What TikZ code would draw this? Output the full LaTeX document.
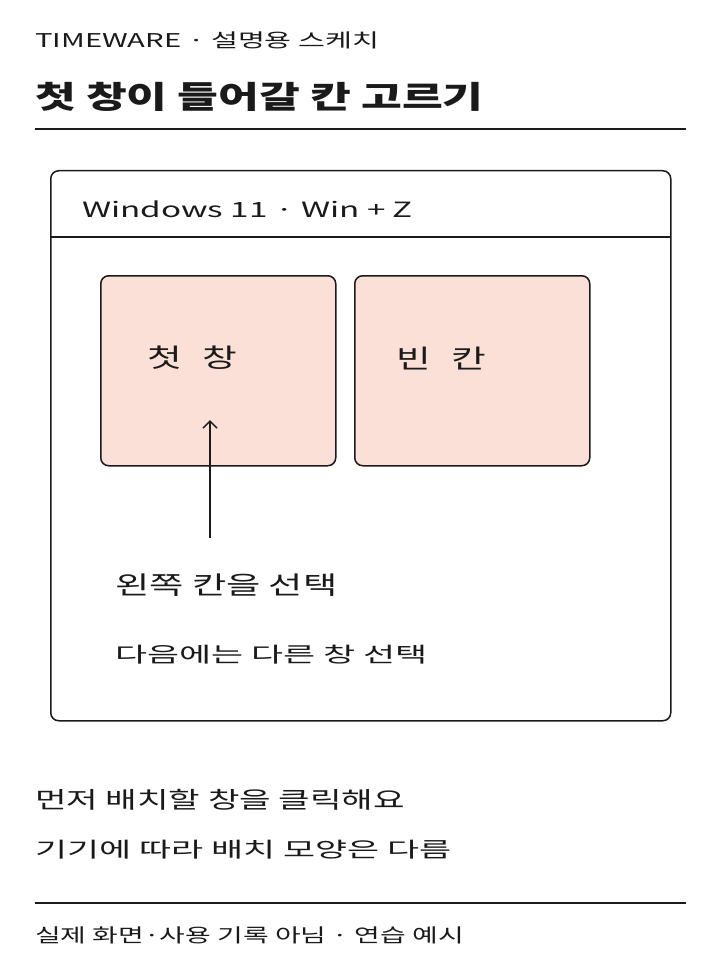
\documentclass[tikz,border=0pt]{standalone}
\usetikzlibrary{arrows.meta}
\usepackage{fontspec}
\setmainfont{Noto Sans CJK KR}
\definecolor{ink}{HTML}{1A1A1A}
\definecolor{peach}{HTML}{FAE0D6}
\newcommand{\fs}[1]{\addfontfeatures{FakeStretch=#1}}
\newcommand{\ls}[1]{\addfontfeatures{LetterSpace=#1}}
\begin{document}
\begin{tikzpicture}[x=1pt,y=-1pt,
  txt/.style={anchor=west,inner sep=0pt,text=ink},
  box/.style={draw=ink,line width=1.5pt,rounded corners=8pt},
  rule/.style={draw=ink,line width=1.3pt}]
\useasboundingbox (0,0) rectangle (720,960);
\node[txt,font=\fontsize{19}{22}\selectfont\fs{1.54}] (hdr) at (35,40) {TIMEWARE · 설명용 스케치};
\node[txt,font=\fontsize{31}{36}\selectfont\bfseries\fs{1.43}] (ttl) at (35,97) {첫 창이 들어갈 칸 고르기};
\coordinate (l1a) at (35,129); \coordinate (l1b) at (686,129);
\draw[rule] (l1a) -- (l1b);
\node[box,minimum width=620pt,minimum height=550pt,anchor=north west] (win) at (50,170) {};
\node[txt,font=\fontsize{21}{24}\selectfont\fs{1.58}] (wt) at (82,209) {Windows 11 · Win + Z};
\coordinate (d1) at (50,237); \coordinate (d2) at (670,237);
\draw[rule] (d1) -- (d2);
\node[box,fill=peach,minimum width=235pt,minimum height=190pt,anchor=north west] (b1) at (100,275) {};
\node[box,fill=peach,minimum width=235pt,minimum height=190pt,anchor=north west] (b2) at (354,275) {};
\node[txt,font=\fontsize{26}{28}\selectfont\fs{1.45}\ls{45}] (t1) at (147,358) {첫 창};
\node[txt,font=\fontsize{26}{28}\selectfont\fs{1.45}\ls{45}] (t2) at (396,358) {빈 칸};
\coordinate (as) at (210,538); \coordinate (ae) at (210,420);
\draw[ink,line width=1.5pt,-{Straight Barb[length=7pt,width=14pt]}] (as) -- (ae);
\node[txt,font=\fontsize{25}{28}\selectfont\fs{1.49}] (s1) at (115,585) {왼쪽 칸을 선택};
\node[txt,font=\fontsize{21}{24}\selectfont\fs{1.66}] (s2) at (115,655) {다음에는 다른 창 선택};
\node[txt,font=\fontsize{23}{26}\selectfont\fs{1.49}] (n1) at (35,800) {먼저 배치할 창을 클릭해요};
\node[txt,font=\fontsize{21}{24}\selectfont\fs{1.66}] (n2) at (35,850) {기기에 따라 배치 모양은 다름};
\coordinate (l2a) at (35,903); \coordinate (l2b) at (686,903);
\draw[rule] (l2a) -- (l2b);
\node[txt,font=\fontsize{19}{22}\selectfont\fs{1.47}] (ft) at (35,935) {실제 화면·사용 기록 아님 · 연습 예시};
\end{tikzpicture}
\end{document}
